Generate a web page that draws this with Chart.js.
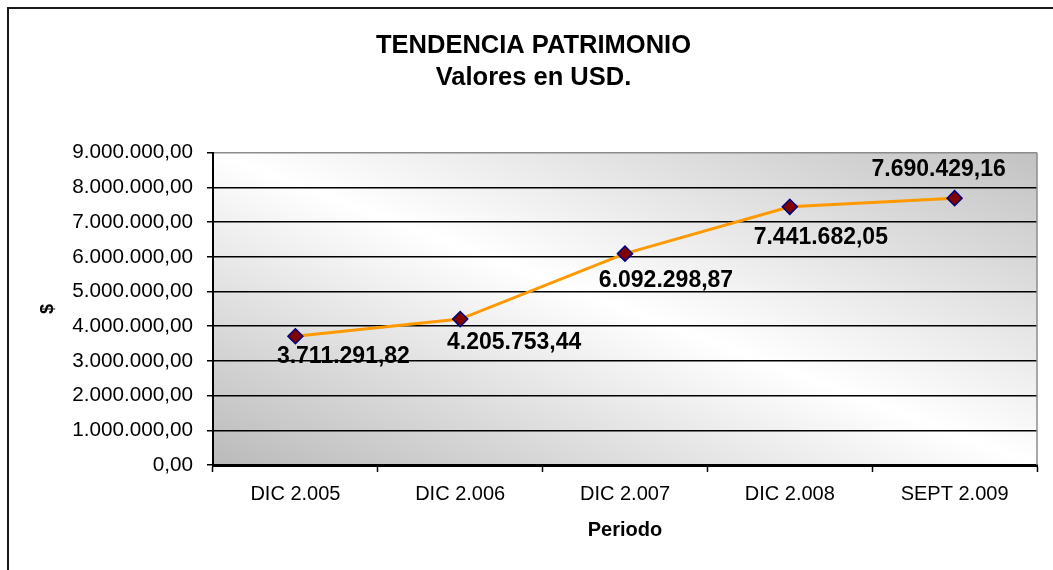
<!DOCTYPE html>
<html>
<head>
<meta charset="utf-8">
<script src="https://cdn.jsdelivr.net/npm/chart.js@4/dist/chart.umd.min.js"></script>
<style>
  html, body { margin: 0; padding: 0; background: #fff; }
  #wrap { width: 1053px; height: 570px; }
</style>
</head>
<body>
<div id="wrap"><canvas id="c" width="1053" height="570"></canvas></div>
<script>
// Periods and equity values (USD)
const periods = ['DIC 2.005', 'DIC 2.006', 'DIC 2.007', 'DIC 2.008', 'SEPT 2.009'];
const patrimonio = [3711291.82, 4205753.44, 6092298.87, 7441682.05, 7690429.16];
const titleLines = ['TENDENCIA PATRIMONIO', 'Valores en USD.'];
const yTitle = '$';
const xTitle = 'Periodo';
const yMin = 0, yMax = 9000000, yStep = 1000000;

// "1234567.8" -> "1.234.567,80"
function fmt(v) {
  const parts = v.toFixed(2).split('.');
  const int = parts[0].replace(/\B(?=(\d{3})+(?!\d))/g, '.');
  return int + ',' + parts[1];
}

const FONT = "'Liberation Sans', Arial, sans-serif";

// Diagonal grey-white-grey fill behind the plot, plus frame lines
const plotBackground = {
  id: 'plotBackground',
  beforeDraw(chart) {
    const { ctx, chartArea: a } = chart;
    const w = a.right - a.left, h = a.bottom - a.top;
    const cx = (a.left + a.right) / 2, cy = (a.top + a.bottom) / 2;
    const k = (w * h) / (w * w + h * h);
    const g = ctx.createLinearGradient(cx - k * h, cy + k * w, cx + k * h, cy - k * w);
    g.addColorStop(0, '#bababa');
    g.addColorStop(0.5, '#ffffff');
    g.addColorStop(1, '#c2c2c2');
    ctx.save();
    ctx.fillStyle = g;
    ctx.fillRect(a.left, a.top, w, h);
    // outer frame (top and left edges)
    ctx.strokeStyle = '#1a1a1a';
    ctx.lineWidth = 2;
    ctx.beginPath();
    ctx.moveTo(8, 570);
    ctx.lineTo(8, 8);
    ctx.lineTo(1053, 8);
    ctx.stroke();
    ctx.restore();
  },
  afterDraw(chart) {
    const { ctx, chartArea: a } = chart;
    ctx.save();
    ctx.strokeStyle = '#8c8c8c';
    ctx.lineWidth = 1.5;
    ctx.beginPath();
    ctx.moveTo(a.right, a.top);
    ctx.lineTo(a.right, a.bottom);
    ctx.stroke();
    ctx.restore();
  }
};

// Value labels next to each marker
const labelOffsets = [[48, 20], [54, 24], [41, 27], [31, 31], [-16, -29]];
const valueLabels = {
  id: 'valueLabels',
  afterDatasetsDraw(chart) {
    const { ctx } = chart;
    const meta = chart.getDatasetMeta(0);
    const data = chart.data.datasets[0].data;
    ctx.save();
    ctx.font = 'bold 23px ' + FONT;
    ctx.fillStyle = '#000';
    ctx.textAlign = 'center';
    ctx.textBaseline = 'middle';
    meta.data.forEach((pt, i) => {
      const [dx, dy] = labelOffsets[i];
      ctx.fillText(fmt(data[i]), pt.x + dx, pt.y + dy);
    });
    ctx.restore();
  }
};

new Chart(document.getElementById('c'), {
  type: 'line',
  data: {
    labels: periods,
    datasets: [{
      data: patrimonio,
      borderColor: '#ff9900',
      borderWidth: 3,
      tension: 0,
      pointStyle: 'rectRot',
      pointRadius: 7.5,
      pointHoverRadius: 7.5,
      pointBackgroundColor: '#800000',
      pointBorderColor: '#000080',
      pointBorderWidth: 1.5
    }]
  },
  options: {
    responsive: false,
    animation: false,
    events: [],
    layout: { padding: { left: 30, right: 16, top: 0, bottom: 0 } },
    plugins: {
      legend: { display: false },
      tooltip: { enabled: false },
      title: {
        display: true,
        text: titleLines,
        color: '#000',
        font: { family: FONT, size: 25.5, weight: 'bold', lineHeight: 1.25 },
        padding: { top: 30, bottom: 59 }
      }
    },
    scales: {
      x: {
        offset: true,
        afterFit(scale) { scale.height = 105; },
        grid: {
          offset: true,
          drawOnChartArea: false,
          drawTicks: true,
          tickLength: 7,
          tickColor: '#000',
          tickWidth: 1.5
        },
        border: { color: '#000', width: 3 },
        ticks: {
          color: '#000',
          padding: 10,
          maxRotation: 0,
          font: { family: FONT, size: 20 }
        },
        title: {
          display: true,
          text: xTitle,
          color: '#000',
          font: { family: FONT, size: 20, weight: 'bold' },
          padding: { top: 0, bottom: 28 }
        }
      },
      y: {
        min: yMin,
        max: yMax,
        afterFit(scale) { scale.width = 183; },
        grid: {
          color: (c) => (c.tick && c.tick.value === yMax ? '#8c8c8c' : '#000'),
          lineWidth: 1.5,
          drawTicks: true,
          tickLength: 6,
          tickColor: '#000'
        },
        border: { color: '#000', width: 2 },
        ticks: {
          stepSize: yStep,
          color: '#000',
          padding: 14,
          font: { family: FONT, size: 20.7 },
          callback: (v) => fmt(v)
        },
        title: {
          display: true,
          text: yTitle,
          color: '#000',
          font: { family: FONT, size: 18, weight: 'bold' },
          padding: { top: 7, bottom: 0 }
        }
      }
    }
  },
  plugins: [plotBackground, valueLabels]
});
</script>
</body>
</html>
